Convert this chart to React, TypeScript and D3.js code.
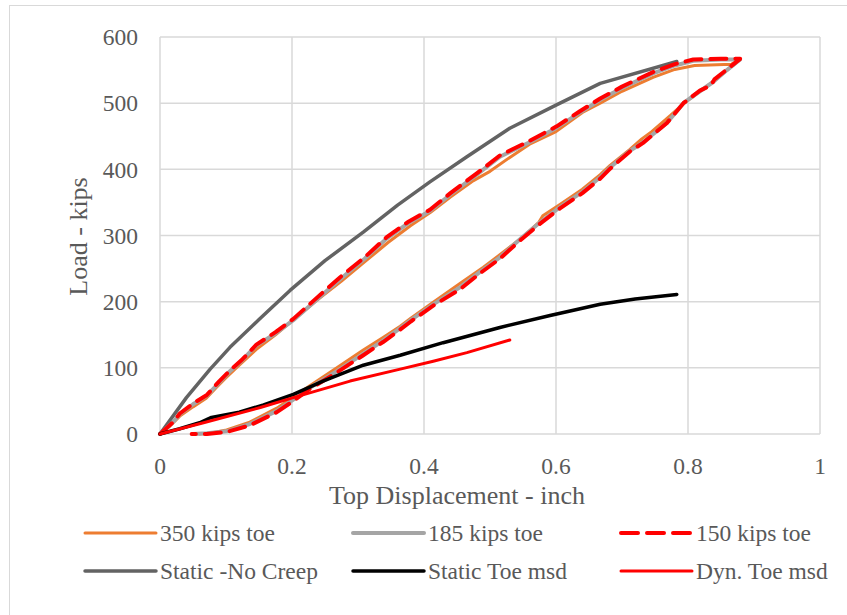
import React, { useEffect, useRef } from 'react';
import * as d3 from 'd3';

type Pt = [number, number];

const xTicks = [0, 0.2, 0.4, 0.6, 0.8, 1];
const yTicks = [0, 100, 200, 300, 400, 500, 600];

const toe350: Pt[] = [
  [0, 0], [0.015, 12], [0.03, 27], [0.05, 41], [0.07, 54], [0.085, 70], [0.1, 85], [0.12, 104],
  [0.146, 128], [0.175, 150], [0.2, 171], [0.24, 204], [0.275, 231], [0.31, 260], [0.345, 289],
  [0.38, 315], [0.41, 335], [0.44, 358], [0.475, 383], [0.5, 397], [0.53, 418], [0.56, 438],
  [0.6, 457], [0.64, 486], [0.667, 500], [0.7, 518], [0.747, 539], [0.78, 551], [0.81, 557],
  [0.866, 559], [0.879, 566],
  [0.859, 550], [0.84, 534], [0.818, 518], [0.793, 499], [0.773, 481], [0.745, 457], [0.73, 446],
  [0.712, 430], [0.682, 406], [0.667, 392], [0.64, 370], [0.606, 347], [0.58, 330], [0.574, 320],
  [0.55, 298], [0.515, 271], [0.49, 252], [0.455, 228], [0.414, 199], [0.38, 175], [0.364, 163],
  [0.338, 146], [0.308, 127], [0.268, 100], [0.227, 73], [0.202, 56], [0.177, 39], [0.136, 18],
  [0.101, 6], [0.075, 1], [0.06, 0],
];

const toe185: Pt[] = [
  [0, 0], [0.02, 18], [0.03, 30], [0.05, 45], [0.071, 58], [0.09, 78], [0.106, 95], [0.125, 112],
  [0.146, 134], [0.175, 152], [0.202, 172], [0.24, 205], [0.273, 234], [0.31, 265], [0.343, 295],
  [0.375, 318], [0.409, 337], [0.44, 362], [0.48, 392], [0.515, 419], [0.56, 441], [0.601, 463],
  [0.635, 485], [0.667, 505], [0.7, 523], [0.747, 545], [0.78, 557], [0.808, 564], [0.85, 566],
  [0.879, 566],
  [0.859, 550], [0.838, 532], [0.818, 518], [0.793, 500], [0.768, 470], [0.732, 441], [0.712, 428],
  [0.682, 403], [0.667, 388], [0.64, 366], [0.606, 343], [0.576, 320], [0.545, 294], [0.515, 267],
  [0.485, 245], [0.455, 222], [0.414, 196], [0.38, 172], [0.364, 160], [0.338, 141], [0.308, 121],
  [0.268, 95], [0.227, 70], [0.202, 52], [0.177, 35], [0.136, 15], [0.101, 4], [0.071, 1], [0.05, 0],
];

const toe150: Pt[] = [
  [0, 0], [0.02, 18], [0.03, 31], [0.05, 46], [0.071, 59], [0.09, 80], [0.106, 96], [0.125, 113],
  [0.146, 135], [0.175, 154], [0.202, 174], [0.24, 208], [0.273, 237], [0.31, 267], [0.343, 297],
  [0.375, 320], [0.409, 339], [0.44, 364], [0.48, 394], [0.515, 421], [0.56, 443], [0.601, 465],
  [0.635, 487], [0.667, 507], [0.7, 525], [0.747, 547], [0.78, 559], [0.808, 566], [0.85, 567],
  [0.879, 567],
  [0.859, 551], [0.84, 536], [0.835, 527], [0.818, 519], [0.793, 500], [0.768, 470], [0.732, 440],
  [0.712, 427], [0.682, 401], [0.667, 386], [0.64, 364], [0.606, 341], [0.576, 318], [0.545, 292],
  [0.515, 265], [0.485, 243], [0.455, 219], [0.414, 194], [0.38, 170], [0.364, 158], [0.338, 139],
  [0.308, 119], [0.268, 93], [0.227, 68], [0.202, 50], [0.177, 33], [0.136, 13], [0.101, 3],
  [0.071, 0], [0.048, 0],
];

const staticNoCreep: Pt[] = [
  [0, 0], [0.04, 55], [0.076, 98], [0.106, 131], [0.15, 173], [0.197, 217], [0.25, 262],
  [0.308, 305], [0.36, 346], [0.409, 381], [0.465, 419], [0.53, 462], [0.6, 497], [0.667, 530],
  [0.783, 563],
];

const staticToeMsd: Pt[] = [
  [0, 0], [0.03, 8], [0.06, 17], [0.078, 25], [0.12, 33], [0.157, 44], [0.202, 60], [0.247, 80],
  [0.308, 104], [0.364, 119], [0.429, 138], [0.515, 161], [0.591, 179], [0.667, 196], [0.72, 204],
  [0.783, 211],
];

const dynToeMsd: Pt[] = [
  [0, 0], [0.066, 17], [0.152, 40], [0.202, 55], [0.288, 80], [0.364, 98], [0.414, 110],
  [0.465, 123], [0.53, 142],
];

const seriesNames = ['350 kips toe', '185 kips toe', '150 kips toe', 'Static -No Creep', 'Static Toe msd', 'Dyn. Toe msd'];

const App = () => {
  const ref = useRef<SVGSVGElement>(null);

  useEffect(() => {
    const W = 847;
    const H = 615;
    const margin = { top: 37, right: 27, bottom: 181, left: 160 };
    const width = W - margin.left - margin.right;
    const height = H - margin.top - margin.bottom;

    const svg = d3.select(ref.current);
    svg.selectAll('*').remove();

    svg.append('rect').attr('width', W).attr('height', H).attr('fill', '#fff');
    svg.append('rect')
      .attr('x', 9.5).attr('y', 5.5).attr('width', W + 20).attr('height', H + 20)
      .attr('fill', 'none').attr('stroke', '#d9d9d9');

    const chart = svg.append('g').attr('transform', `translate(${margin.left},${margin.top})`);

    const x = d3.scaleLinear().domain([0, 1]).range([0, width]);
    const y = d3.scaleLinear().domain([0, 600]).range([height, 0]);

    const font = '"Liberation Serif", "Times New Roman", serif';

    // grid
    chart.selectAll('.gx').data(xTicks).enter().append('line')
      .attr('x1', (d) => x(d)).attr('x2', (d) => x(d)).attr('y1', 0).attr('y2', height)
      .attr('stroke', '#d9d9d9').attr('stroke-width', 1.5);
    chart.selectAll('.gy').data(yTicks).enter().append('line')
      .attr('y1', (d) => y(d)).attr('y2', (d) => y(d)).attr('x1', 0).attr('x2', width)
      .attr('stroke', '#d9d9d9').attr('stroke-width', 1.5);

    // tick labels
    chart.selectAll('.tx').data(xTicks).enter().append('text')
      .attr('x', (d) => x(d)).attr('y', height + 32).attr('dy', '0.35em')
      .attr('text-anchor', 'middle').attr('font-family', font).attr('font-size', 23.5).attr('fill', '#595959')
      .text((d) => d3.format('~g')(d));
    chart.selectAll('.ty').data(yTicks).enter().append('text')
      .attr('x', -22).attr('y', (d) => y(d)).attr('dy', '0.35em')
      .attr('text-anchor', 'end').attr('font-family', font).attr('font-size', 23.5).attr('fill', '#595959')
      .text((d) => d);

    // axis titles
    chart.append('text')
      .attr('x', width / 2 - 33).attr('y', height + 61).attr('dy', '0.35em')
      .attr('text-anchor', 'middle').attr('font-family', font).attr('font-size', 26).attr('fill', '#595959')
      .text('Top Displacement - inch');
    chart.append('text')
      .attr('transform', `translate(${-82},${height / 2 + 1}) rotate(-90)`)
      .attr('dy', '0.35em')
      .attr('text-anchor', 'middle').attr('font-family', font).attr('font-size', 26).attr('fill', '#595959')
      .text('Load - kips');

    const line = d3.line<Pt>().x((d) => x(d[0])).y((d) => y(d[1]));

    const styles = [
      { data: toe350, color: '#ed7d31', w: 3, dash: null },
      { data: toe185, color: '#a5a5a5', w: 4, dash: null },
      { data: toe150, color: '#ff0000', w: 4, dash: '16 9' },
      { data: staticNoCreep, color: '#636363', w: 3.5, dash: null },
      { data: staticToeMsd, color: '#000000', w: 3.5, dash: null },
      { data: dynToeMsd, color: '#ff0000', w: 3, dash: null },
    ];

    const drawOrder = [3, 0, 1, 2, 4, 5];
    drawOrder.forEach((i) => {
      const s = styles[i];
      chart.append('path')
        .datum(s.data)
        .attr('d', line)
        .attr('fill', 'none')
        .attr('stroke', s.color)
        .attr('stroke-width', s.w)
        .attr('stroke-linejoin', 'round')
        .attr('stroke-linecap', 'round')
        .attr('stroke-dasharray', s.dash);
    });

    // legend
    const legend = svg.append('g');
    const colX = [85, 353, 621];
    const rowY = [533, 571];
    seriesNames.forEach((name, i) => {
      const s = styles[i];
      const lx = colX[i % 3];
      const ly = rowY[Math.floor(i / 3)];
      legend.append('line')
        .attr('x1', lx).attr('x2', lx + 71).attr('y1', ly).attr('y2', ly)
        .attr('stroke', s.color).attr('stroke-width', s.w)
        .attr('stroke-linecap', 'round')
        .attr('stroke-dasharray', s.dash ? '17 9' : null);
      legend.append('text')
        .attr('x', lx + 75).attr('y', ly).attr('dy', '0.35em')
        .attr('font-family', font).attr('font-size', 23.5).attr('fill', '#595959')
        .text(name);
    });
  }, []);

  return <svg ref={ref} width={847} height={615} style={{ position: 'absolute', left: 0, top: 0 }}></svg>;
};

export default App;
